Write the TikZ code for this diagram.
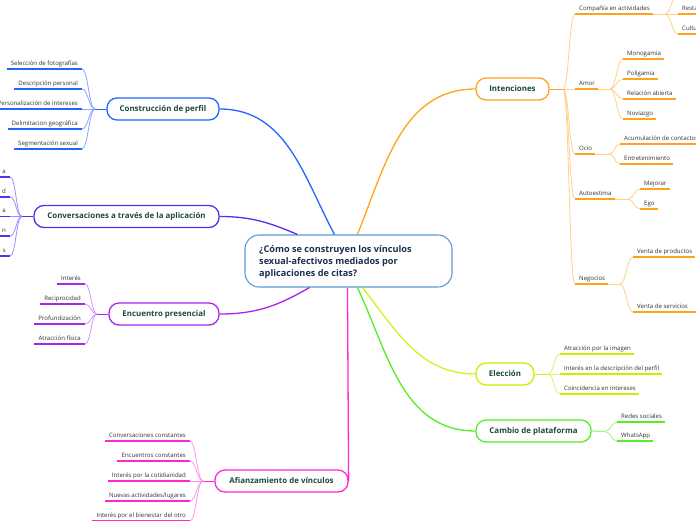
\documentclass[tikz,border=0pt]{standalone}
\usepackage{fontspec}
\setmainfont{Open Sans}
\usetikzlibrary{calc}
\definecolor{cblue}{HTML}{2266FF}
\definecolor{cblueL}{HTML}{86A6FF}
\definecolor{cindigo}{HTML}{5A2BF0}
\definecolor{cindigoL}{HTML}{A28CFF}
\definecolor{cpurple}{HTML}{A526F2}
\definecolor{cpurpleL}{HTML}{D494FF}
\definecolor{cmag}{HTML}{FF28D0}
\definecolor{cmagL}{HTML}{FF94EC}
\definecolor{corange}{HTML}{FFA31A}
\definecolor{corangeL}{HTML}{FFD08A}
\definecolor{cyel}{HTML}{CCEE00}
\definecolor{cyelL}{HTML}{E2F266}
\definecolor{cgreen}{HTML}{55EE22}
\definecolor{cgreenL}{HTML}{A0F585}
\definecolor{ccenter}{HTML}{5B9BD5}
\definecolor{ctext}{HTML}{1C4A3A}
\definecolor{cctext}{HTML}{1B2F4F}
\definecolor{leaftext}{HTML}{333333}
\tikzset{
  mainnode/.style={draw, line width=1.3pt, rounded corners=10pt, fill=white, inner sep=0pt,
    minimum height=22pt, font=\fontsize{7.9}{9}\selectfont\bfseries, text=ctext},
  leaf/.style={inner sep=0pt, font=\fontsize{6.05}{7}\selectfont, text=leaftext},
  underl/.style={line width=1.7pt},
  twig/.style={line width=0.8pt},
  branch/.style={line width=1.3pt}
}
\newcommand\leafL[5]{%
  \node[leaf,anchor=base east] (#1) at (#2-4,#3-4) {#5};
  \coordinate (#1R) at (#2,#3);
  \path let \p1=(#1.west), \p2=(#1R) in coordinate (#1L) at (\x1-4pt,\y2);
  \draw[underl,#4] (#1L) -- (#1R);}
\newcommand\leafR[5]{%
  \coordinate (#1L) at (#2,#3);
  \node[leaf,anchor=base west] (#1) at (#2+4,#3-4) {#5};
  \path let \p1=(#1.east), \p2=(#1L) in coordinate (#1R) at (\x1+3pt,\y2);
  \draw[underl,#4] (#1L) -- (#1R);}
\newcommand\mmcurve[3]{\draw[twig,#3] (#1) .. controls +(6,0) and +(-6,0) .. (#2);}
\begin{document}
\begin{tikzpicture}[x=1pt,y=-1pt]
\clip (0,0) rectangle (696,520);
\fill[white] (0,0) rectangle (696,520);

% central node
\node[draw=ccenter, line width=1.1pt, rounded corners=14pt, fill=white, minimum width=207pt,
  minimum height=52pt, inner sep=0pt] (c) at (348.5,261) {};
\node[anchor=west, inner sep=0pt, align=left, text=cctext,
  font=\fontsize{9.15}{12}\selectfont\bfseries] (ctx) at (259,262)
  {¿Cómo se construyen los vínculos\\sexual-afectivos mediados por\\aplicaciones de citas?};

\coordinate (cB) at ($(c.north west)+(90,0)$);
\coordinate (cO) at ($(c.north west)+(113,0)$);
\coordinate (cI) at ($(c.north west)+(53,0)$);
\coordinate (cE) at ($(c.south west)+(65,0)$);
\coordinate (cM) at ($(c.south west)+(103,0)$);
\coordinate (cY) at ($(c.south west)+(118,0)$);
\coordinate (cG) at ($(c.south west)+(113,0)$);

% main nodes
\node[mainnode, draw=cblue, minimum width=112pt] (cp) at (163,109) {Construcción de perfil};
\node[mainnode, draw=cindigo, minimum width=185pt] (cv) at (126.5,216.5) {Conversaciones a través de la aplicación};
\node[mainnode, draw=cpurple, minimum width=110pt] (en) at (164,314) {Encuentro presencial};
\node[mainnode, draw=cmag, minimum width=133pt] (af) at (281.5,481) {Afianzamiento de vínculos};
\node[mainnode, draw=corange, minimum width=73pt] (in) at (512.5,89) {Intenciones};
\node[mainnode, draw=cyel, minimum width=58pt] (el) at (505,374) {Elección};
\node[mainnode, draw=cgreen, minimum width=115pt] (ca) at (533.5,431) {Cambio de plataforma};

% branches from center
\draw[branch,cblue] (cB) to[out=118,in=0] (cp.east);
\draw[branch,corange] (cO) to[out=68,in=180] (in.west);
\draw[branch,cindigo] (cI) to[out=157,in=0] (cv.east);
\draw[branch,cpurple] (cE) to[out=210,in=0] (en.east);
\draw[branch,cmag] (cM) -- (af.east);
\draw[branch,cyel!85!white] (cY) to[out=-52,in=180] (el.west);
\draw[branch,cgreen] (cG) to[out=-65,in=180] (ca.west);

% Construccion de perfil
\coordinate (jcp) at (95,109);
\draw[twig,cblue] (cp.west) -- (jcp);
\leafL{cp1}{82}{69}{cblue}{Selección de fotografías}
\leafL{cp2}{82}{89}{cblue}{Descripción personal}
\leafL{cp3}{82}{109}{cblue}{Personalización de intereses}
\leafL{cp4}{82}{129}{cblue}{Delimitacion geográfica}
\leafL{cp5}{82}{149}{cblue}{Segmentación sexual}
\foreach \n in {cp1,cp2,cp3,cp4,cp5}{\mmcurve{\n R}{jcp}{cblueL}}

% Conversaciones
\coordinate (jcv) at (22,216.5);
\draw[twig,cindigo] (cv.west) -- (jcv);
\leafL{cv1}{10}{177}{cindigo}{a}
\leafL{cv2}{10}{197}{cindigo}{d}
\leafL{cv3}{10}{216.5}{cindigo}{a}
\leafL{cv4}{10}{236}{cindigo}{n}
\leafL{cv5}{10}{256}{cindigo}{s}
\foreach \n in {cv1,cv2,cv3,cv4,cv5}{\mmcurve{\n R}{jcv}{cindigoL}}

% Encuentro presencial
\coordinate (jen) at (97,314);
\draw[twig,cpurple] (en.west) -- (jen);
\leafL{en1}{85}{284}{cpurple}{Interés}
\leafL{en2}{85}{304}{cpurple}{Reciprocidad}
\leafL{en3}{85}{324}{cpurple}{Profundización}
\leafL{en4}{85}{344}{cpurple}{Atracción física}
\foreach \n in {en1,en2,en3,en4}{\mmcurve{\n R}{jen}{cpurpleL}}

% Afianzamiento
\coordinate (jaf) at (203,481);
\draw[twig,cmag] (af.west) -- (jaf);
\leafL{af1}{190}{441}{cmag}{Conversaciones constantes}
\leafL{af2}{190}{461}{cmag}{Encuentros constantes}
\leafL{af3}{190}{481}{cmag}{Interés por la cotidianidad}
\leafL{af4}{190}{501}{cmag}{Nuevas actividades/lugares}
\leafL{af5}{190}{521}{cmag}{Interés por el bienestar del otro}
\foreach \n in {af1,af2,af3,af4,af5}{\mmcurve{\n R}{jaf}{cmagL}}

% Intenciones
\coordinate (jin) at (563,89);
\draw[twig,corange,line width=1pt] (in.east) -- (jin);
\leafR{ic1}{575}{14}{corange}{Compañía en actividades}
\leafR{ic2}{575}{89}{corange}{Amor}
\leafR{ic3}{575}{154}{corange}{Ocio}
\leafR{ic4}{575}{199}{corange}{Autoestima}
\leafR{ic5}{575}{284}{corange}{Negocios}
\foreach \n in {ic1,ic2,ic3,ic4,ic5}{\mmcurve{jin}{\n L}{corangeL}}

% Compania
\coordinate (jc1) at (665,14);
\draw[twig,corangeL] (ic1R) -- (jc1);
\coordinate (cs0L) at (678,-6);
\draw[underl,corange] (cs0L) -- (700,-6);
\leafR{cs2}{678}{14}{corange}{Resta}
\leafR{cs3}{678}{34}{corange}{Cultu}
\draw[underl,corange] (cs2R) -- (700,14);
\draw[underl,corange] (cs3R) -- (700,34);
\foreach \n in {cs0,cs2,cs3}{\mmcurve{jc1}{\n L}{corangeL}}

% Amor
\coordinate (jc2) at (610,89);
\draw[twig,corangeL] (ic2R) -- (jc2);
\leafR{am1}{623}{59}{corange}{Monogamia}
\leafR{am2}{623}{79}{corange}{Poligamia}
\leafR{am3}{623}{99}{corange}{Relación abierta}
\leafR{am4}{623}{119}{corange}{Noviazgo}
\foreach \n in {am1,am2,am3,am4}{\mmcurve{jc2}{\n L}{corangeL}}

% Ocio
\coordinate (jc3) at (609,154);
\draw[twig,corangeL] (ic3R) -- (jc3);
\leafR{oc1}{620}{144}{corange}{Acumulación de contactos}
\leafR{oc2}{620}{164}{corange}{Entretenimiento}
\foreach \n in {oc1,oc2}{\mmcurve{jc3}{\n L}{corangeL}}

% Autoestima
\coordinate (jc4) at (628,199);
\draw[twig,corangeL] (ic4R) -- (jc4);
\leafR{au1}{640}{189}{corange}{Mejorar}
\leafR{au2}{640}{209}{corange}{Ego}
\foreach \n in {au1,au2}{\mmcurve{jc4}{\n L}{corangeL}}

% Negocios
\coordinate (jc5) at (620,284);
\draw[twig,corangeL] (ic5R) -- (jc5);
\leafR{ne1}{633}{257}{corange}{Venta de productos}
\leafR{ne2}{633}{312}{corange}{Venta de servicios}
\draw[underl,corange] (ne2R) -- (700,312);
\foreach \n in {ne1,ne2}{\mmcurve{jc5}{\n L}{corangeL}}

% Eleccion
\coordinate (jel) at (548,374);
\draw[twig,cyel] (el.east) -- (jel);
\leafR{el1}{560}{354}{cyel}{Atracción por la imagen}
\leafR{el2}{560}{374}{cyel}{Interés en la descripción del perfil}
\leafR{el3}{560}{394}{cyel}{Coincidencia en intereses}
\foreach \n in {el1,el2,el3}{\mmcurve{jel}{\n L}{cyelL}}

% Cambio de plataforma
\coordinate (jca) at (605,431.5);
\draw[twig,cgreenL,line width=1.2pt] (ca.east) -- (jca);
\leafR{ca1}{617}{422}{cgreen}{Redes sociales}
\leafR{ca2}{617}{441}{cgreen}{WhatsApp}
\foreach \n in {ca1,ca2}{\mmcurve{jca}{\n L}{cgreenL}}
\end{tikzpicture}
\end{document}
